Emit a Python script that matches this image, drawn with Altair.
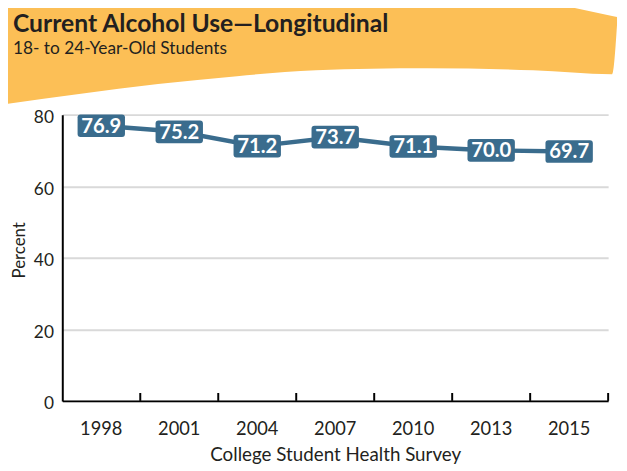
import altair as alt
import pandas as pd

# ---- data ----
years = ["1998", "2001", "2004", "2007", "2010", "2013", "2015"]
values = [76.9, 75.2, 71.2, 73.7, 71.1, 70.0, 69.7]
y_ticks = [0, 20, 40, 60, 80]

title_text = "Current Alcohol Use\u2014Longitudinal"
subtitle_text = "18- to 24-Year-Old Students"
x_title = "College Student Health Survey"
y_title = "Percent"

# ---- decoration: orange banner outline (page pixels) ----
banner_x = [0, 80, 160, 240, 320, 433, 540, 620, 625]
banner_top = [0, 0, 0, 0, 0, 0, 0, 13, 14]
banner_bottom = [103, 92, 82, 74, 68, 66, 68, 72, 22]

# plot area origin in page pixels
OX, OY = 63, 113
W, H = 553, 290

ORANGE = "#FCBF56"
BLUE = "#3A6C8D"
DARK = "#231F20"
FONT = "Lato"

df = pd.DataFrame({"year": years, "value": values,
                   "label": [f"{v:.1f}" for v in values]})

banner_df = pd.DataFrame({
    "bx": [x - OX for x in banner_x],
    "btop": [y - OY for y in banner_top],
    "bbot": [y - OY for y in banner_bottom],
})

banner = alt.Chart(banner_df).mark_area(
    color=ORANGE, opacity=1, interpolate="monotone", clip=False
).encode(
    x=alt.X("bx:Q", scale=None, axis=None),
    y=alt.Y("btop:Q", scale=None, axis=None),
    y2="bbot:Q",
)

title_df = pd.DataFrame({"t": [title_text]})
sub_df = pd.DataFrame({"t": [subtitle_text]})

title_mark = alt.Chart(title_df).mark_text(
    align="left", baseline="alphabetic", font=FONT, fontSize=25,
    fontWeight="bold", color=DARK
).encode(text="t:N", x=alt.value(13 - OX), y=alt.value(29 - OY))

sub_mark = alt.Chart(sub_df).mark_text(
    align="left", baseline="alphabetic", font=FONT, fontSize=17.5,
    color=DARK
).encode(text="t:N", x=alt.value(13 - OX), y=alt.value(52 - OY))

xscale = alt.Scale(type="band", paddingInner=0, paddingOuter=0, domain=years)
yscale = alt.Scale(domain=[0, 80], nice=False)

x_enc = alt.X(
    "year:N", scale=xscale, sort=years,
    axis=alt.Axis(
        title=x_title, labelAngle=0, ticks=False, domainColor="black",
        domainWidth=2, labelFontSize=18.5, labelFont=FONT, labelColor=DARK,
        labelPadding=19, titleFont=FONT, titleFontSize=19,
        titleFontWeight="normal", titleColor=DARK,
        titleBaseline="alphabetic", titleY=60, grid=False,
    ),
)
y_enc = alt.Y(
    "value:Q", scale=yscale,
    axis=alt.Axis(
        values=y_ticks, title=y_title, ticks=False, domainColor="black",
        domainWidth=2, grid=True, gridColor="#D9D9D9", gridWidth=2,
        labelFontSize=17.5, labelFont=FONT, labelColor=DARK, labelPadding=9,
        labelOffset=3,
        titleFont=FONT, titleFontSize=17, titleFontWeight="normal",
        titleColor=DARK, titleAngle=-90, titleX=-38, titleY=137,
        titleBaseline="alphabetic", titleAlign="center",
    ),
)

line = alt.Chart(df).mark_line(color=BLUE, strokeWidth=4.5).encode(
    x=x_enc, y=y_enc
)

box_path = ("M -0.875,-0.479 L 0.875,-0.479 Q 1,-0.479 1,-0.354 "
            "L 1,0.354 Q 1,0.479 0.875,0.479 L -0.875,0.479 "
            "Q -1,0.479 -1,0.354 L -1,-0.354 Q -1,-0.479 -0.875,-0.479 Z")

boxes = alt.Chart(df).mark_point(
    shape=box_path, size=48 * 48, filled=True, color=BLUE, opacity=1,
    strokeWidth=0
).encode(x=alt.X("year:N", scale=xscale, sort=years),
         y=alt.Y("value:Q", scale=yscale))

labels = alt.Chart(df).mark_text(
    color="white", font=FONT, fontSize=20.5, fontWeight="bold",
    baseline="middle", align="center", dy=1
).encode(x=alt.X("year:N", scale=xscale, sort=years),
         y=alt.Y("value:Q", scale=yscale), text="label:N")

ticks = alt.Chart(df).mark_rule(color="black", strokeWidth=2).encode(
    x=alt.X("year:N", scale=xscale, sort=years, bandPosition=1),
    y=alt.value(H - 8), y2=alt.value(H),
)

chart = alt.layer(
    banner, title_mark, sub_mark, line, boxes, labels, ticks
).properties(
    width=W, height=H,
    autosize=alt.AutoSizeParams(type="none"),
    padding={"left": 55, "top": 105, "right": 11, "bottom": 68},
    background="white",
).configure_view(stroke=None)

chart.save("out.html", embed_options={"renderer": "svg", "actions": False})
